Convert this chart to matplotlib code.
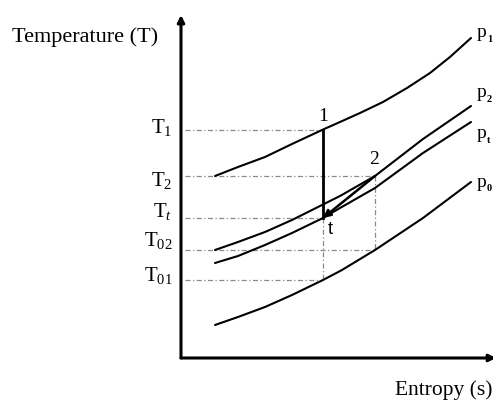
import matplotlib
matplotlib.use("Agg")
import matplotlib.pyplot as plt

plt.rcParams['font.family'] = ['Liberation Serif', 'DejaVu Serif']
plt.rcParams['mathtext.fontset'] = 'custom'
plt.rcParams['mathtext.rm'] = 'Liberation Serif'
plt.rcParams['mathtext.it'] = 'Liberation Serif:italic'

# isobars (entropy s, temperature T), arbitrary units
s_p1 = [0.68, 1.14, 1.68, 2.22, 2.82, 3.18, 3.58, 4.04, 4.52, 4.98, 5.38, 5.80]
T_p1 = [3.64, 3.82, 4.02, 4.28, 4.56, 4.72, 4.90, 5.12, 5.40, 5.70, 6.02, 6.40]
s_p2 = [0.68, 1.14, 1.68, 2.22, 2.82, 3.18, 3.88, 4.84, 5.80]
T_p2 = [2.16, 2.32, 2.52, 2.76, 3.06, 3.24, 3.64, 4.38, 5.04]
s_pt = [0.68, 1.14, 1.68, 2.22, 2.84, 3.18, 3.88, 4.84, 5.80]
T_pt = [1.90, 2.04, 2.26, 2.50, 2.80, 3.00, 3.40, 4.10, 4.72]
s_p0 = [0.68, 1.14, 1.68, 2.22, 2.84, 3.22, 3.88, 4.84, 5.80]
T_p0 = [0.66, 0.82, 1.02, 1.26, 1.56, 1.76, 2.16, 2.80, 3.52]
curve_subs = ['1', '2', 't', '0']

# state points
s1, T1 = 2.84, 4.56
st, Tt = 2.84, 2.80
s2, T2 = 3.88, 3.64
T02 = 2.16
T01 = 1.56

T_levels = [T1, T2, Tt, T02, T01]
T_labels = [r'$\mathrm{T}_{1}$', r'$\mathrm{T}_{2}$', r'$\mathrm{T}_{t}$',
            r'$\mathrm{T}_{02}$', r'$\mathrm{T}_{01}$']
T_ends = [s1, s2, st, s2, st]

fig = plt.figure(figsize=(4.93, 4.03), dpi=100)
ax = fig.add_axes([181 / 493, 45 / 403, 312 / 493, 343 / 403])
ax.set_xlim(0, 6.24)
ax.set_ylim(0, 6.86)
ax.axis('off')

# axes with arrows
arrow = dict(arrowstyle='-|>', lw=2.2, color='black', mutation_scale=10, shrinkA=0, shrinkB=0)
ax.annotate('', xy=(0, 1), xytext=(0, 0), xycoords='axes fraction', arrowprops=arrow, annotation_clip=False)
ax.annotate('', xy=(1.01, 0), xytext=(0, 0), xycoords='axes fraction', arrowprops=arrow, annotation_clip=False)

# dotted guide lines
guide = dict(color='#8a8a8a', lw=0.9, linestyle=(0, (4, 2, 1, 2)))
for T, s in zip(T_levels, T_ends):
    ax.plot([0.08, s], [T, T], **guide)
ax.plot([s2, s2], [T2, T02], **guide)
ax.plot([st, st], [Tt, T01], **guide)

# isobars
curves = [(s_p1, T_p1), (s_p2, T_p2), (s_pt, T_pt), (s_p0, T_p0)]
label_dy = [4, 10, -8, 0]
for (s, T), sub, dy in zip(curves, curve_subs, label_dy):
    ax.plot(s, T, color='black', lw=1.5, solid_capstyle='round', solid_joinstyle='round')
    ax.annotate('p', xy=(s[-1], T[-1]), xytext=(4, dy), textcoords='offset points',
                ha='left', va='center', fontsize=14, annotation_clip=False)
    ax.annotate(sub, xy=(s[-1], T[-1]), xytext=(11.5, dy - 5), textcoords='offset points',
                ha='left', va='center', fontsize=7.5, fontweight='bold', annotation_clip=False)

# process lines
ax.plot([s1, st], [T1, Tt], color='black', lw=2.0)
ax.annotate('', xy=(st, Tt), xytext=(s2, T2),
            arrowprops=dict(arrowstyle='-|>', lw=1.8, color='black', mutation_scale=11,
                            shrinkA=0, shrinkB=0))

ax.annotate('1', xy=(s1, T1), xytext=(0, 10), textcoords='offset points',
            ha='center', va='center', fontsize=14)
ax.annotate('2', xy=(s2, T2), xytext=(-1, 12), textcoords='offset points',
            ha='center', va='center', fontsize=14)
ax.annotate('t', xy=(st, Tt), xytext=(5, -8), textcoords='offset points',
            ha='center', va='center', fontsize=13, family='Liberation Sans')

# temperature labels on the axis
label_off = [2, -3, 5, 7, 3]
for T, lab, dy in zip(T_levels, T_labels, label_off):
    ax.annotate(lab, xy=(0, T), xycoords=('axes fraction', 'data'), xytext=(-6, dy),
                textcoords='offset points', ha='right', va='center', fontsize=15,
                annotation_clip=False)

fig.text(12 / 493, 1 - 37 / 403, 'Temperature (T)', fontsize=16, ha='left', va='center')
fig.text(395 / 493, 1 - 390 / 403, 'Entropy (s)', fontsize=15.5, ha='left', va='center')

fig.savefig('out.png', dpi=100, facecolor='white')
